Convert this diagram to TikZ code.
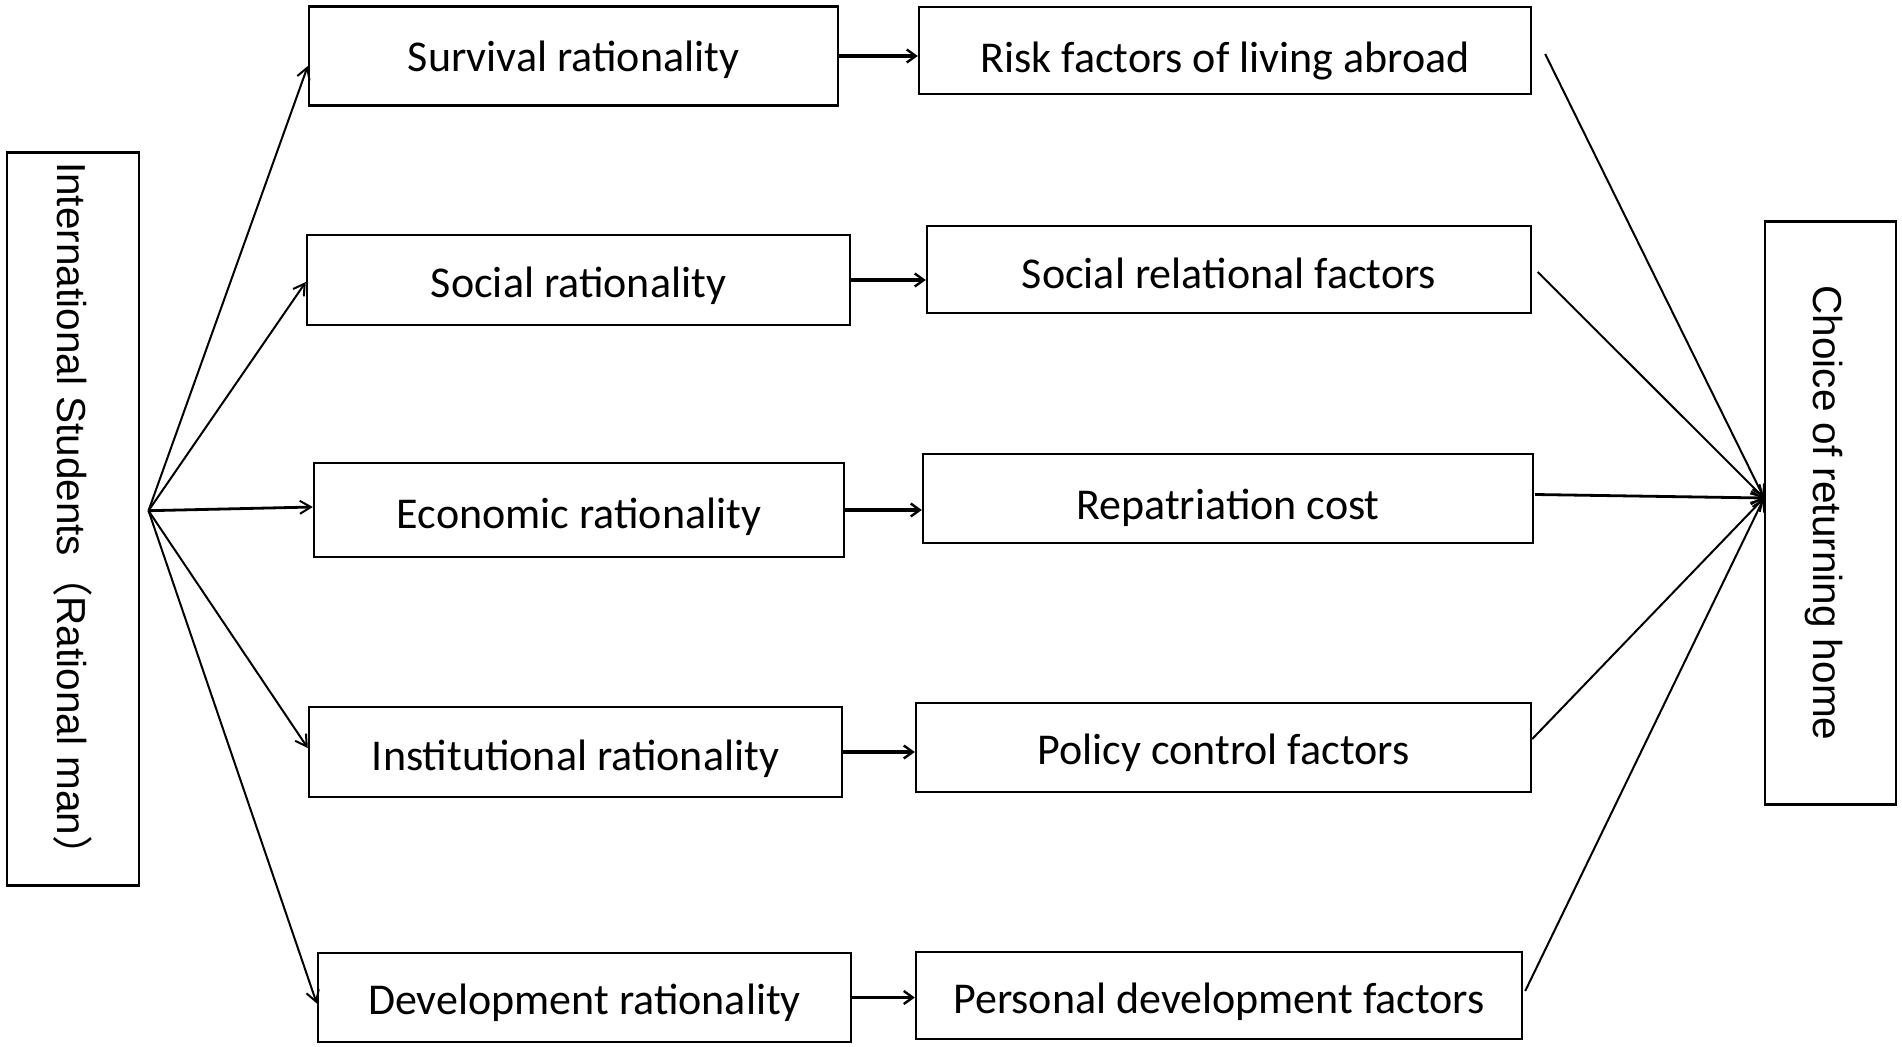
\documentclass[tikz,border=0pt]{standalone}
\usepackage{fontspec}
\setmainfont{Carlito}
\newfontfamily\cjk{Noto Sans CJK SC}
\newfontfamily\vfont{Liberation Sans}
\usetikzlibrary{arrows.meta,calc}
\begin{document}
\begin{tikzpicture}[x=1pt,y=-1pt,
  box/.style={draw, line width=2.4pt, inner sep=0pt, text depth=0pt, font=\fontsize{44}{50}\selectfont},
  bl/.style={text height=#1},
  vbox/.style={draw, line width=2.4pt, inner sep=0pt, text depth=0pt, rotate=-90, font=\vfont\fontsize{40.5}{48}\selectfont},
  fan/.style={line width=2pt, -{Straight Barb[length=11pt,width=13pt,line width=2pt]}},
  link/.style={line width=3.2pt, -{Straight Barb[length=9pt,width=13pt,line width=2.4pt]}},
  feed/.style={line width=2pt, -{Straight Barb[length=11pt,width=13pt,line width=2pt]}}]
\fill[white] (0,0) rectangle (1902,1046);
\useasboundingbox (0,0) rectangle (1902,1046);

% left and right vertical boxes
\node[vbox, bl=31pt, minimum width=733pt, minimum height=132pt] (L) at (73,519) {International Students{\cjk （}Rational man{\cjk ）}};
\node[vbox, bl=34pt, minimum width=583pt, minimum height=131pt] (R) at (1830.5,513) {Choice of returning home};

% first column
\node[box, bl=32pt, minimum width=529pt, minimum height=99pt] (s1) at (573.5,56) {Survival rationality};
\node[box, bl=34pt, minimum width=543pt, minimum height=90pt] (s2) at (578.5,280) {Social rationality};
\node[box, bl=36pt, minimum width=530pt, minimum height=94pt] (s3) at (579,510) {Economic rationality};
\node[box, bl=36pt, minimum width=533pt, minimum height=90pt] (s4) at (575.5,752) {Institutional rationality};
\node[box, bl=34pt, minimum width=533pt, minimum height=89pt] (s5) at (584.5,997.5) {Development rationality};

% second column
\node[box, bl=44pt, minimum width=612pt, minimum height=87pt] (r1) at (1225,50.5) {Risk factors of living abroad};
\node[box, bl=38pt, minimum width=604pt, minimum height=87pt] (r2) at (1229,269.5) {Social relational factors};
\node[box, bl=42pt, minimum width=610pt, minimum height=89pt] (r3) at (1228,498.5) {Repatriation cost};
\node[box, bl=34pt, minimum width=615pt, minimum height=89pt] (r4) at (1223.5,747.5) {Policy control factors};
\node[box, bl=36pt, minimum width=606pt, minimum height=87pt] (r5) at (1219,995.5) {Personal development factors};

% fan points
\coordinate (orig) at (148.5,510.7);
\coordinate (conv) at (1764,498);

% left fan
\draw[fan] (orig) -- ([yshift=-10pt]s1.west);
\draw[fan] (orig) -- ([yshift=-2pt]s2.west);
\draw[fan, line width=2.8pt] (orig) -- ([yshift=3pt]s3.west);
\draw[fan] (orig) -- ([yshift=4pt]s4.west);
\draw[fan] (orig) -- ([yshift=-6pt]s5.west);

% links between columns
\draw[link] (s1.east) -- (s1.east -| r1.west);
\draw[link] (s2.east) -- (s2.east -| r2.west);
\draw[link] (s3.east) -- (s3.east -| r3.west);
\draw[link] (s4.east) -- (s4.east -| r4.west);
\draw[link] (s5.east) -- (s5.east -| r5.west);

% right fan
\draw[feed] ([xshift=13pt,yshift=-3.5pt]r1.east) -- (conv);
\draw[feed] ([xshift=5.5pt,yshift=-2.5pt]r2.east) -- (conv);
\draw[feed, line width=2.8pt] ([xshift=1pt,yshift=4pt]r3.east) -- (conv);
\draw[feed] ([yshift=8.5pt]r4.east) -- (conv);
\draw[feed] ([xshift=2pt,yshift=4.5pt]r5.east) -- (conv);
\end{tikzpicture}
\end{document}
